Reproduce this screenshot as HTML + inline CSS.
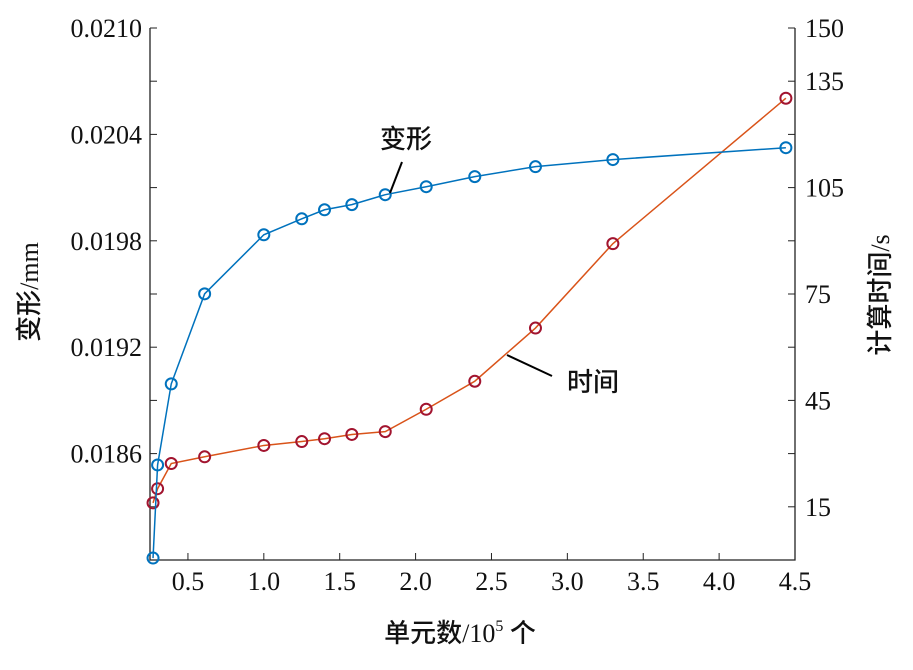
<!DOCTYPE html>
<html><head><meta charset="utf-8"><style>
body{margin:0;background:#fff}
svg text{font-family:"Liberation Serif","Noto Serif CJK SC",serif;font-size:26px;fill:#111}
svg text.cjk{font-family:"Liberation Serif","Noto Sans CJK SC",sans-serif;font-weight:500}
</style></head><body>
<svg id="c" width="913" height="665"></svg>
<script>
const xVals=[0.27,0.30,0.39,0.61,1.0,1.25,1.40,1.58,1.80,2.07,2.39,2.79,3.30,4.44];
const deform=[0.018011,0.018536,0.018993,0.019501,0.019834,0.019924,0.019975,0.020004,0.020060,0.020105,0.020162,0.020218,0.020258,0.020325];
const timeVals=[16.1,20.1,27.2,29.1,32.3,33.4,34.2,35.4,36.2,42.5,50.4,65.4,89.2,130.2];
const xTicks=[0.5,1.0,1.5,2.0,2.5,3.0,3.5,4.0,4.5];
const yLTicks=[0.0180,0.0183,0.0186,0.0189,0.0192,0.0195,0.0198,0.0201,0.0204,0.0207,0.0210];
const yLLabels=["0.0186","0.0192","0.0198","0.0204","0.0210"];
const yRTicks=[15,30,45,60,75,90,105,120,135,150];
const yRLabels=[15,45,75,105,135,150];
const L=150,R=795,T=28,B=560;
const sx=v=>L+(v-0.25)/4.25*(R-L);
const syL=v=>B-(v-0.0180)/0.0030*(B-T);
const syR=v=>B-v/150*(B-T);
const svg=document.getElementById('c');const NS='http://www.w3.org/2000/svg';
function mk(t,a,p){const e=document.createElementNS(NS,t);for(const k in a)e.setAttribute(k,a[k]);(p||svg).appendChild(e);return e;}
let e;
e=mk('path',{d:`M${L},${T}V${B}H${R}V${T}`,fill:'none',stroke:'#222','stroke-width':1.3});

xTicks.forEach(v=>{const x=sx(v);mk('line',{x1:x,x2:x,y1:B,y2:B-7,stroke:'#222'});
 e=mk('text',{x:x,y:B+30,'text-anchor':'middle'});e.textContent=v.toFixed(1);
 });
yLTicks.forEach(v=>{const y=syL(v);mk('line',{x1:L,x2:L+7,y1:y,y2:y,stroke:'#222'});});
yLLabels.forEach(s=>{const y=syL(+s);e=mk('text',{x:L-8,y:y+9,'text-anchor':'end'});e.textContent=s;
 });
yRTicks.forEach(v=>{const y=syR(v);mk('line',{x1:R,x2:R-7,y1:y,y2:y,stroke:'#222'});});
yRLabels.forEach(v=>{const y=syR(v);e=mk('text',{x:R+10,y:y+9});e.textContent=v;
 });
function series(vals,sy,col,name){
 e=mk('polyline',{points:vals.map((v,i)=>sx(xVals[i])+','+sy(v)).join(' '),fill:'none',stroke:col,'stroke-width':1.5});
 
 vals.forEach((v,i)=>{e=mk('circle',{cx:sx(xVals[i]),cy:sy(v),r:5.5,fill:'none',stroke:name=='deform'?'#0072bd':'#a2142f','stroke-width':2});
 });
}
series(timeVals,syR,'#d95319','time');
series(deform,syL,'#0072bd','deform');
mk('line',{x1:390,y1:193,x2:402,y2:162,stroke:'#000','stroke-width':2});
e=mk('text',{x:380,y:148,class:'cjk'});e.textContent='变形';
mk('line',{x1:507,y1:355,x2:552,y2:376,stroke:'#000','stroke-width':2});
e=mk('text',{x:567,y:391,class:'cjk'});e.textContent='时间';
e=mk('text',{x:460,y:642,'text-anchor':'middle',class:'cjk'});e.innerHTML='单元数/10<tspan font-size="16" dy="-11">5</tspan><tspan dy="11"> 个</tspan>';

e=mk('text',{x:0,y:0,'text-anchor':'middle',class:'cjk',transform:'translate(38,292) rotate(-90)'});e.textContent='变形/mm';

e=mk('text',{x:0,y:0,'text-anchor':'middle',class:'cjk',transform:'translate(889,295) rotate(-90)'});e.textContent='计算时间/s';

</script>
</body></html>
